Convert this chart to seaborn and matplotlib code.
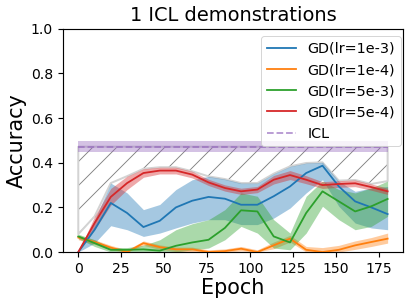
import numpy as np
import pandas as pd
import matplotlib
matplotlib.use('Agg')
import matplotlib.pyplot as plt
import seaborn as sns

# Data (20 evaluation points between epoch 0 and 180)
epochs = [0, 9.5, 18.9, 28.4, 37.9, 47.4, 56.8, 66.3, 75.8, 85.3,
          94.7, 104.2, 113.7, 123.2, 132.6, 142.1, 151.6, 161.1, 170.5, 180]

gd_1e3_mean = [0.0, 0.10, 0.22, 0.175, 0.112, 0.14, 0.20, 0.23, 0.247, 0.239,
               0.212, 0.212, 0.25, 0.294, 0.354, 0.387, 0.294, 0.227, 0.20, 0.17]
gd_1e3_low = [0.0, 0.04, 0.118, 0.10, 0.07, 0.085, 0.108, 0.13, 0.145, 0.145,
              0.123, 0.123, 0.152, 0.197, 0.265, 0.324, 0.205, 0.13, 0.108, 0.10]
gd_1e3_high = [0.0, 0.145, 0.309, 0.265, 0.19, 0.213, 0.28, 0.324, 0.339, 0.327,
               0.309, 0.309, 0.351, 0.384, 0.399, 0.402, 0.317, 0.272, 0.287, 0.294]

gd_1e4_mean = [0.065, 0.045, 0.02, 0.0, 0.04, 0.022, 0.012, 0.012, 0.0, 0.004,
               0.015, 0.0, 0.03, 0.06, 0.01, 0.0, 0.01, 0.03, 0.045, 0.06]
gd_1e4_low = [0.055, 0.035, 0.01, 0.0, 0.03, 0.012, 0.002, 0.002, 0.0, 0.0,
              0.005, 0.0, 0.015, 0.045, 0.0, 0.0, 0.0, 0.012, 0.025, 0.04]
gd_1e4_high = [0.075, 0.055, 0.03, 0.01, 0.05, 0.032, 0.022, 0.022, 0.01, 0.014,
               0.025, 0.01, 0.045, 0.075, 0.025, 0.02, 0.03, 0.05, 0.065, 0.085]

gd_5e3_mean = [0.07, 0.04, 0.01, 0.01, 0.012, 0.006, 0.028, 0.043, 0.055, 0.108,
               0.187, 0.182, 0.07, 0.043, 0.175, 0.272, 0.227, 0.182, 0.205, 0.238]
gd_5e3_low = [0.06, 0.025, 0.0, 0.0, 0.0, 0.0, 0.0, 0.01, 0.018, 0.055,
              0.115, 0.085, 0.018, 0.01, 0.085, 0.205, 0.145, 0.10, 0.115, 0.16]
gd_5e3_high = [0.08, 0.055, 0.02, 0.02, 0.03, 0.055, 0.10, 0.127, 0.145, 0.19,
               0.265, 0.25, 0.145, 0.085, 0.25, 0.318, 0.28, 0.265, 0.287, 0.318]

gd_5e4_mean = [0.0, 0.13, 0.247, 0.309, 0.354, 0.365, 0.365, 0.347, 0.312, 0.287,
               0.272, 0.28, 0.324, 0.345, 0.324, 0.30, 0.305, 0.308, 0.291, 0.272]
gd_5e4_low = [0.0, 0.10, 0.21, 0.28, 0.335, 0.35, 0.35, 0.332, 0.298, 0.273,
              0.258, 0.266, 0.305, 0.325, 0.306, 0.285, 0.29, 0.293, 0.277, 0.258]
gd_5e4_high = [0.0, 0.16, 0.285, 0.34, 0.373, 0.38, 0.38, 0.362, 0.326, 0.301,
               0.286, 0.294, 0.343, 0.365, 0.342, 0.315, 0.32, 0.323, 0.305, 0.286]

icl_mean = 0.472
icl_std = 0.024

labels = ['GD(lr=1e-3)', 'GD(lr=1e-4)', 'GD(lr=5e-3)', 'GD(lr=5e-4)']
colors = ['tab:blue', 'tab:orange', 'tab:green', 'tab:red']
means = [gd_1e3_mean, gd_1e4_mean, gd_5e3_mean, gd_5e4_mean]
lows = [gd_1e3_low, gd_1e4_low, gd_5e3_low, gd_5e4_low]
highs = [gd_1e3_high, gd_1e4_high, gd_5e3_high, gd_5e4_high]

df = pd.concat([pd.DataFrame({'Epoch': epochs, 'Accuracy': m, 'Method': l})
                for m, l in zip(means, labels)], ignore_index=True)

# drawn at dpi 72 so the hatch spacing matches the reference
plt.rcParams.update({
    'font.size': 14,
    'axes.linewidth': 1.15,
    'xtick.major.width': 1.15, 'ytick.major.width': 1.15,
    'xtick.major.size': 5, 'ytick.major.size': 5,
    'xtick.major.pad': 5, 'ytick.major.pad': 5,
    'hatch.linewidth': 0.9,
})

fig = plt.figure(figsize=(416 / 72, 307 / 72), dpi=72)
ax = fig.add_axes([0.151, 0.179, 0.818, 0.727])

# hatched gap between best GD run and ICL
gap_low = np.max(np.array(highs), axis=0)
ax.fill_between(epochs, gap_low, icl_mean, facecolor='none', hatch='/',
                edgecolor='gray', linewidth=0, zorder=1)
ax.fill_between(epochs, gap_low, icl_mean, facecolor='none',
                edgecolor='lightgray', linewidth=2.0, zorder=1)

for lo, hi, c in zip(lows, highs, colors):
    ax.fill_between(epochs, lo, hi, color=c, alpha=0.4, linewidth=0, zorder=2)

sns.lineplot(data=df, x='Epoch', y='Accuracy', hue='Method', palette=colors,
             linewidth=1.8, ax=ax, zorder=3)

ax.fill_between([epochs[0], epochs[-1]], icl_mean - icl_std, icl_mean + icl_std,
                color='tab:purple', alpha=0.4, linewidth=0, zorder=2)
ax.plot([epochs[0], epochs[-1]], [icl_mean, icl_mean], color='tab:purple',
        alpha=0.7, linestyle='--', linewidth=1.8, label='ICL', zorder=3)

ax.set_ylim(0, 1.0)
ax.set_xticks([0, 25, 50, 75, 100, 125, 150, 175])
ax.set_title('1 ICL demonstrations', fontsize=19.4, pad=8)
ax.set_xlabel('Epoch', fontsize=20.8, labelpad=2)
ax.set_ylabel('Accuracy', fontsize=20.8, labelpad=4)

h, l = ax.get_legend_handles_labels()
ax.legend(h, l, loc='upper right', fontsize=14.4, bbox_to_anchor=(1.014, 1.0))

fig.savefig('out.png', dpi=72)
